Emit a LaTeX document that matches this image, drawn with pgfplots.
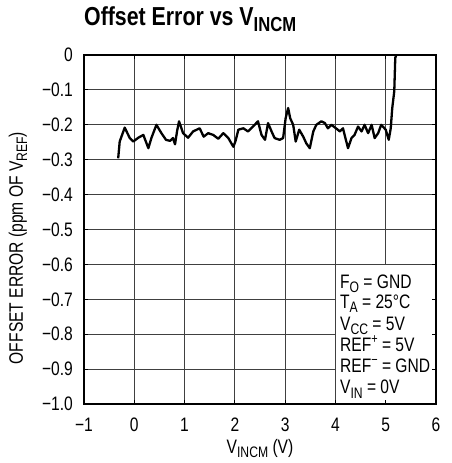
\documentclass[border=0pt]{standalone}
\usepackage{fontspec}
\setmainfont{Liberation Sans}[FakeStretch=0.8]
\newfontfamily\titlefont{Liberation Sans}[FakeStretch=0.82]
\usepackage{pgfplots}
\pgfplotsset{compat=1.18}
\newcommand\sub[1]{\raisebox{-0.22em}{\scalebox{0.78}{#1}}}
\newcommand\sups[1]{\raisebox{0.42em}{\scalebox{0.7}{#1}}}
\pgfplotsset{
  layers/mylayers/.define layer set={axis background,axis grid,boxlayer,axis ticks,axis lines,axis tick labels,pre main,main,axis descriptions,axis foreground}{
    grid style={/pgfplots/on layer=axis grid},
    tick style={/pgfplots/on layer=axis ticks},
    axis line style={/pgfplots/on layer=axis lines},
    label style={/pgfplots/on layer=axis descriptions},
    legend style={/pgfplots/on layer=axis foreground},
    title style={/pgfplots/on layer=axis descriptions},
    colorbar style={/pgfplots/on layer=axis descriptions},
    ticklabel style={/pgfplots/on layer=axis tick labels},
    axis background@ style={/pgfplots/on layer=axis background},
    3d box foreground style={/pgfplots/on layer=axis foreground},
  },
}
\pgfplotstableread{
x y
-0.32 -0.296
-0.29 -0.248
-0.19 -0.208
-0.09 -0.238
-0.02 -0.248
0.08 -0.237
0.18 -0.229
0.28 -0.267
0.34 -0.238
0.44 -0.200
0.54 -0.224
0.63 -0.243
0.71 -0.246
0.77 -0.238
0.81 -0.256
0.85 -0.219
0.89 -0.190
0.97 -0.224
1.07 -0.237
1.17 -0.219
1.30 -0.210
1.38 -0.234
1.47 -0.224
1.57 -0.229
1.67 -0.240
1.77 -0.224
1.87 -0.238
1.97 -0.263
2.01 -0.248
2.07 -0.214
2.17 -0.210
2.26 -0.219
2.36 -0.205
2.46 -0.190
2.53 -0.229
2.60 -0.243
2.66 -0.195
2.73 -0.219
2.79 -0.238
2.89 -0.243
2.96 -0.238
3.01 -0.181
3.06 -0.152
3.10 -0.181
3.16 -0.200
3.21 -0.248
3.28 -0.214
3.36 -0.234
3.42 -0.253
3.49 -0.267
3.56 -0.219
3.62 -0.200
3.72 -0.190
3.79 -0.195
3.85 -0.210
3.92 -0.200
4.01 -0.210
4.09 -0.219
4.15 -0.210
4.25 -0.267
4.32 -0.238
4.38 -0.229
4.45 -0.205
4.52 -0.219
4.58 -0.200
4.65 -0.224
4.72 -0.200
4.78 -0.238
4.85 -0.224
4.91 -0.200
5.00 -0.214
5.06 -0.243
5.10 -0.210
5.13 -0.152
5.17 -0.104
5.19 -0.008
5.21 0.000
}\datatable
\begin{document}
\fontsize{19.5}{22}\selectfont
\begin{tikzpicture}
\begin{axis}[
  set layers=mylayers,
  scale only axis,
  width=352pt, height=349pt,
  xmin=-1, xmax=6, ymin=-1, ymax=0,
  xtick={-1,0,1,2,3,4,5,6},
  xticklabels={−1,0,1,2,3,4,5,6},
  ytick={-1,-0.9,-0.8,-0.7,-0.6,-0.5,-0.4,-0.3,-0.2,-0.1,0},
  yticklabels={−1.0,−0.9,−0.8,−0.7,−0.6,−0.5,−0.4,−0.3,−0.2,−0.1,0},
  xticklabel style={anchor=base, inner sep=0pt, yshift=-27pt},
  yticklabel style={anchor=east, inner sep=0pt, xshift=-11pt},
  grid=major,
  grid style={black!75, line width=0.8pt},
  axis line style={black, line width=1.4pt},
  tick style={black, line width=0.8pt},
  major tick length=4pt,
  title={\titlefont\bfseries\fontsize{26}{29}\selectfont Offset Error vs V\sub{INCM}},
  title style={at={(0,1)}, anchor=base west, inner sep=0pt, yshift=23pt},
  xlabel={V\sub{INCM} (V)},
  xlabel style={at={(axis description cs:0.5,0)}, anchor=base, inner sep=0pt, yshift=-49pt},
  ylabel={OFFSET ERROR (ppm OF V\sub{REF})},
  ylabel style={at={(axis description cs:-0.1875,0.447)}, anchor=center, inner sep=0pt},
]
\addplot[fill=white, draw=none, on layer=boxlayer] coordinates {(4.01,-0.6015) (6,-0.6015) (6,-1) (4.01,-1)} -- cycle;
\addplot[black, line width=2.3pt, line join=round] table[x=x,y=y] {\datatable};
\node[anchor=base west, inner sep=0pt] at (axis cs:4.09,-0.668) {F\sub{O} = GND};
\node[anchor=base west, inner sep=0pt] at (axis cs:4.09,-0.725) {T\sub{A} = 25°C};
\node[anchor=base west, inner sep=0pt] at (axis cs:4.09,-0.788) {V\sub{CC} = 5V};
\node[anchor=base west, inner sep=0pt] at (axis cs:4.09,-0.851) {REF\sups{+} = 5V};
\node[anchor=base west, inner sep=0pt] at (axis cs:4.09,-0.911) {REF\sups{−} = GND};
\node[anchor=base west, inner sep=0pt] at (axis cs:4.09,-0.971) {V\sub{IN} = 0V};
\end{axis}
\pgfresetboundingbox
\useasboundingbox (-84pt,-59pt) rectangle (367pt,404pt);
\end{tikzpicture}
\end{document}
